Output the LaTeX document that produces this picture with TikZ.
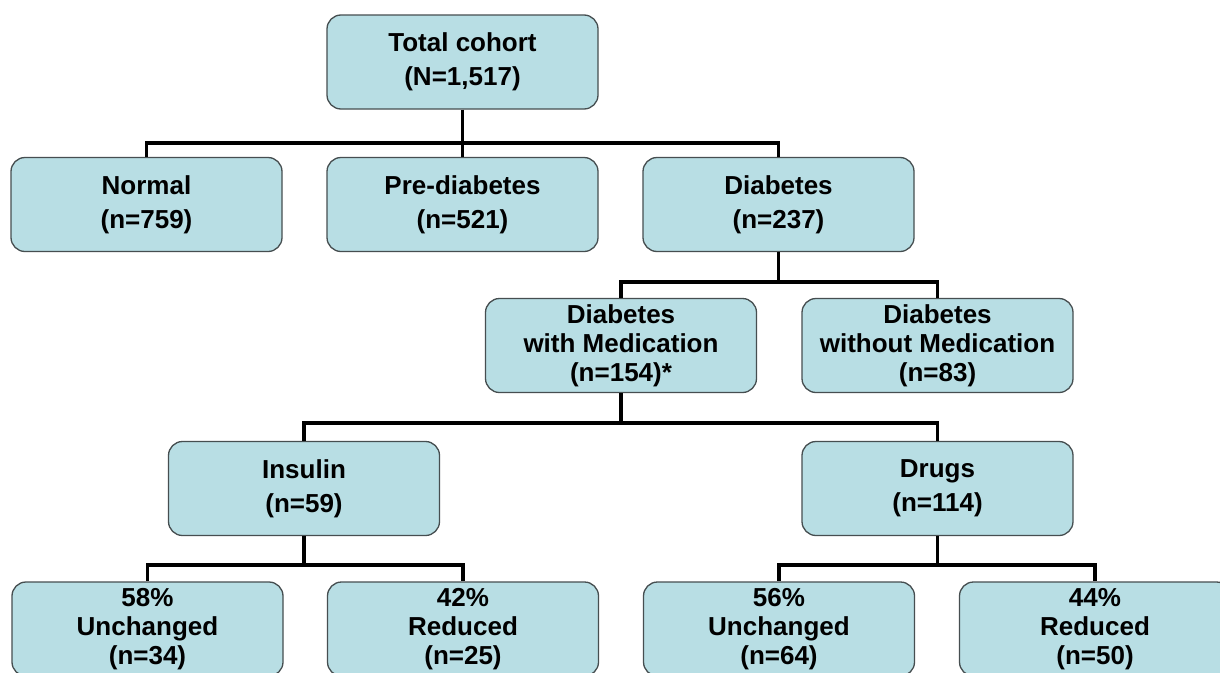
\documentclass[tikz,border=0pt]{standalone}
\usepackage{fontspec}
\setmainfont{Liberation Sans}
\definecolor{boxfill}{RGB}{184,222,228}
\definecolor{boxline}{RGB}{70,78,80}
\begin{document}
\begin{tikzpicture}[x=1pt,y=-1pt,
  box/.style={rectangle,rounded corners=14pt,draw=boxline,line width=1.3pt,fill=boxfill,
    minimum width=271pt,minimum height=94pt,inner sep=0pt,align=center,
    font=\fontsize{26}{34}\selectfont\bfseries},
  tbox/.style={box,font=\fontsize{26}{29}\selectfont\bfseries},
  conn/.style={line width=3.4pt,black}]
\useasboundingbox (0,0) rectangle (1220,672);
\clip (0,0) rectangle (1220,672);
\fill[white] (0,0) rectangle (1220,672);
% nodes
\node[box] (total) at (462.5,62) {Total cohort\\(N=1,517)};
\node[box] (normal) at (146.5,204.5) {Normal\\(n=759)};
\node[box] (pre) at (462.5,204.5) {Pre-diabetes\\(n=521)};
\node[box] (diab) at (778.5,204.5) {Diabetes\\(n=237)};
\node[tbox] (dwm) at (621,345.5) {Diabetes\\with Medication\\(n=154)*};
\node[tbox] (dwo) at (937.5,345.5) {Diabetes\\without Medication\\(n=83)};
\node[box] (ins) at (304,488.5) {Insulin\\(n=59)};
\node[box] (drug) at (937.5,488.5) {Drugs\\(n=114)};
\node[tbox] (iu) at (147.5,629) {58\%\\Unchanged\\(n=34)};
\node[tbox] (ir) at (463,629) {42\%\\Reduced\\(n=25)};
\node[tbox] (du) at (779,629) {56\%\\Unchanged\\(n=64)};
\node[tbox] (dr) at (1095,629) {44\%\\Reduced\\(n=50)};
% connectors
\begin{scope}[conn]
\coordinate (h1) at (0,143);
\coordinate (h2) at (0,282);
\coordinate (h3) at (0,423);
\coordinate (h4) at (0,565);
\draw (total.south) -- (total.south |- h1) -| (normal.north);
\draw (total.south |- h1) -- (pre.north);
\draw (total.south |- h1) -| (diab.north);
\draw (diab.south) -- (diab.south |- h2) -| (dwm.north);
\draw (diab.south |- h2) -| (dwo.north);
\draw (dwm.south) -- (dwm.south |- h3) -| (ins.north);
\draw (dwm.south |- h3) -| (drug.north);
\draw (ins.south) -- (ins.south |- h4) -| (iu.north);
\draw (ins.south |- h4) -| (ir.north);
\draw (drug.south) -- (drug.south |- h4) -| (du.north);
\draw (drug.south |- h4) -| (dr.north);
\end{scope}
\end{tikzpicture}
\end{document}
